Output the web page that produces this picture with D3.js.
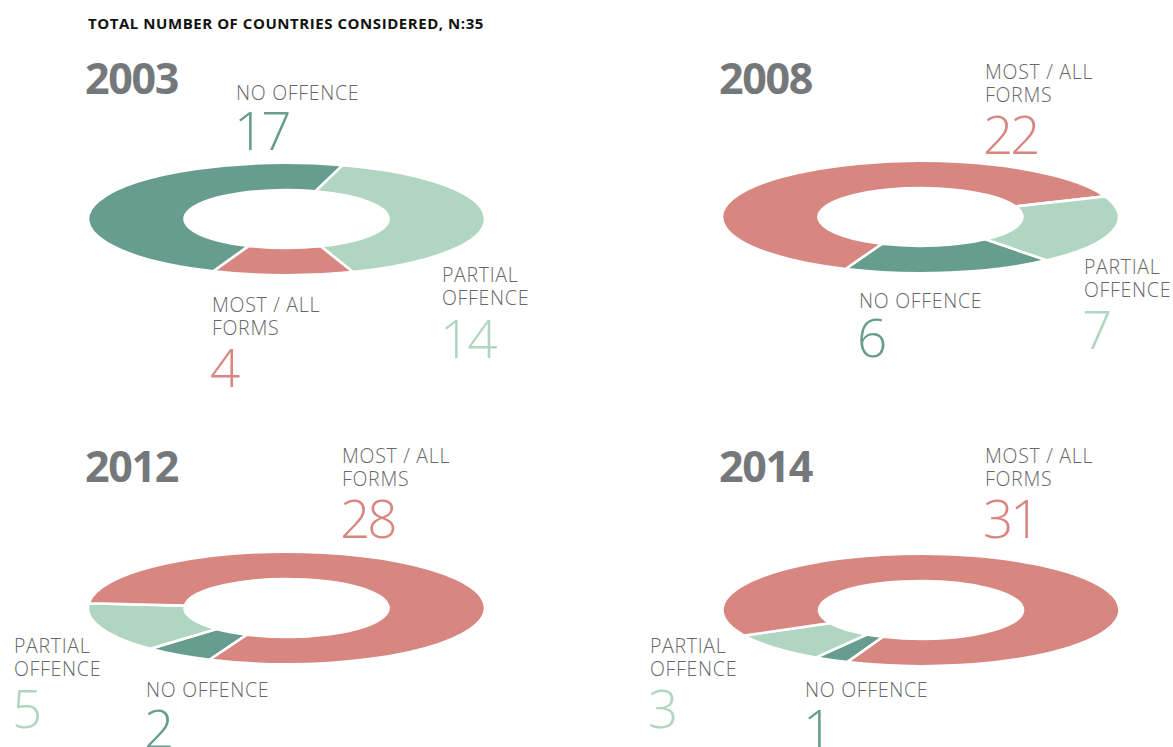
<!DOCTYPE html>
<html>
<head>
<meta charset="utf-8">
<script src="https://cdn.jsdelivr.net/npm/d3@7"></script>
<style>
  html, body { margin: 0; padding: 0; background: #ffffff; }
  svg { display: block; }
</style>
</head>
<body>
<svg id="chart" width="1173" height="747"></svg>
<script>
// ---- data ----
const title = "TOTAL NUMBER OF COUNTRIES CONSIDERED, N:35";
const years = ["2003", "2008", "2012", "2014"];
const categories = ["MOST / ALL FORMS", "PARTIAL OFFENCE", "NO OFFENCE"];
const mostAllForms = [4, 22, 28, 31];
const partialOffence = [14, 7, 5, 3];
const noOffence = [17, 6, 2, 1];
// clockwise order of the slices in each ring, and where the first slice starts (degrees from 12 o'clock)
const sliceOrder = [
  ["NO OFFENCE", "PARTIAL OFFENCE", "MOST / ALL FORMS"],
  ["NO OFFENCE", "MOST / ALL FORMS", "PARTIAL OFFENCE"],
  ["NO OFFENCE", "PARTIAL OFFENCE", "MOST / ALL FORMS"],
  ["NO OFFENCE", "PARTIAL OFFENCE", "MOST / ALL FORMS"]
];
const startDegrees = [201.6, 140.5, 202.8, 201.8];

// ---- styling / layout ----
const colour = d3.scaleOrdinal()
  .domain(categories)
  .range(["#d88680", "#b0d5c1", "#679d8f"]);

const labelLines = {
  "MOST / ALL FORMS": ["MOST / ALL", "FORMS"],
  "PARTIAL OFFENCE": ["PARTIAL", "OFFENCE"],
  "NO OFFENCE": ["NO OFFENCE"]
};

// ring centres and year-heading anchors
const panels = [
  { cx: 286.5, cy: 219, yearX: 85, yearY: 94 },
  { cx: 920.5, cy: 217, yearX: 719, yearY: 94 },
  { cx: 286.5, cy: 608, yearX: 85, yearY: 482 },
  { cx: 921,   cy: 610, yearX: 719, yearY: 482 }
];
// label anchors per panel: [x, first-line baseline, number baseline]
const labelPos = [
  { "NO OFFENCE": [236, 100, 150], "PARTIAL OFFENCE": [442, 282, 358], "MOST / ALL FORMS": [212, 312, 387] },
  { "MOST / ALL FORMS": [985, 79, 154], "PARTIAL OFFENCE": [1084, 274, 349], "NO OFFENCE": [859, 308, 357] },
  { "MOST / ALL FORMS": [342, 463, 538], "PARTIAL OFFENCE": [14, 653, 728], "NO OFFENCE": [146, 697, 748] },
  { "MOST / ALL FORMS": [985, 463, 538], "PARTIAL OFFENCE": [650, 653, 728], "NO OFFENCE": [805, 697, 748] }
];

const outerR = 198.5, innerR = 102, squash = 0.283;
const fontFamily = "'Open Sans', 'Noto Sans', sans-serif";

const svg = d3.select("#chart");

svg.append("text")
  .attr("x", 88).attr("y", 29)
  .attr("font-family", fontFamily)
  .attr("font-weight", 700)
  .attr("font-size", 15)
  .attr("letter-spacing", 0.55)
  .attr("fill", "#111111")
  .text(title);

const valueBySeries = {
  "MOST / ALL FORMS": mostAllForms,
  "PARTIAL OFFENCE": partialOffence,
  "NO OFFENCE": noOffence
};

const arc = d3.arc().innerRadius(innerR).outerRadius(outerR);

years.forEach((year, i) => {
  const p = panels[i];
  const rows = sliceOrder[i].map(cat => ({ cat, value: valueBySeries[cat][i] }));
  const start = startDegrees[i] * Math.PI / 180;
  const pie = d3.pie()
    .sort(null)
    .value(d => d.value)
    .startAngle(start)
    .endAngle(start + 2 * Math.PI);

  const g = svg.append("g").attr("class", "panel");

  // year heading
  g.append("text")
    .attr("x", p.yearX).attr("y", p.yearY)
    .attr("font-family", fontFamily)
    .attr("font-weight", 700)
    .attr("font-size", 43)
    .attr("letter-spacing", -1.3)
    .attr("fill", "#75787b")
    .text(year);

  // flattened ring
  g.append("g")
    .attr("transform", `translate(${p.cx},${p.cy}) scale(1,${squash})`)
    .selectAll("path")
    .data(pie(rows))
    .join("path")
    .attr("d", arc)
    .attr("fill", d => colour(d.data.cat))
    .attr("stroke", "#ffffff")
    .attr("stroke-width", 2.6)
    .attr("vector-effect", "non-scaling-stroke")
    .attr("stroke-linejoin", "miter");

  // category labels and counts
  rows.forEach(r => {
    const [lx, ly, ny] = labelPos[i][r.cat];
    const t = g.append("text")
      .attr("font-family", fontFamily)
      .attr("font-weight", 300)
      .attr("font-size", 19.5)
      .attr("letter-spacing", 0.7)
      .attr("fill", "#666769");
    labelLines[r.cat].forEach((line, k) => {
      t.append("tspan").attr("x", lx).attr("y", ly + k * 23).text(line);
    });
    g.append("text")
      .attr("x", lx - 2).attr("y", ny)
      .attr("font-family", fontFamily)
      .attr("font-weight", 300)
      .attr("font-size", 53)
      .attr("letter-spacing", -3)
      .attr("fill", colour(r.cat))
      .text(r.value);
  });
});
</script>
</body>
</html>
